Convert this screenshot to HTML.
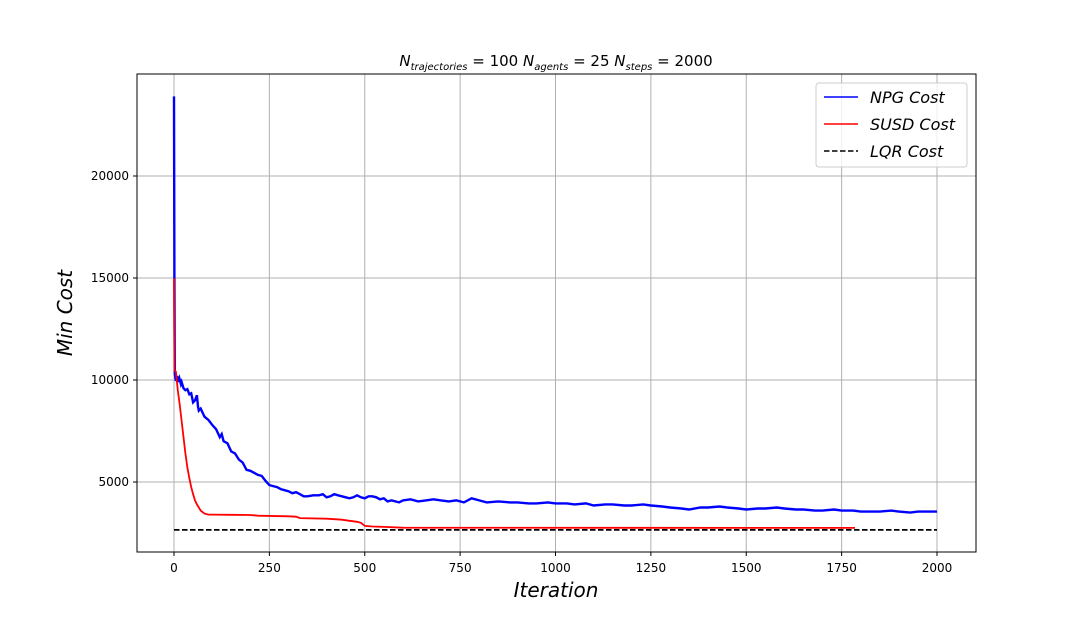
<!DOCTYPE html>
<html><head><meta charset="utf-8"><style>
body{margin:0;background:#fff;}
svg text{font-family:"DejaVu Sans","Liberation Sans",sans-serif;}
</style></head><body>
<svg id="chart" width="1084" height="620" xmlns="http://www.w3.org/2000/svg">
<rect width="1084" height="620" fill="#fff"/>
<g id="grid"></g>
<g id="series"></g>
<rect x="137" y="74" width="839" height="478" fill="none" stroke="#000" stroke-width="1"/>
<g id="ticks"></g>
<text x="556" y="66" text-anchor="middle" font-size="15"><tspan font-style="italic">N</tspan><tspan font-size="10" dy="4" font-style="italic">trajectories</tspan><tspan dy="-4"> = 100 </tspan><tspan font-style="italic">N</tspan><tspan font-size="10" dy="4" font-style="italic">agents</tspan><tspan dy="-4"> = 25 </tspan><tspan font-style="italic">N</tspan><tspan font-size="10" dy="4" font-style="italic">steps</tspan><tspan dy="-4"> = 2000</tspan></text>
<text x="556" y="597" text-anchor="middle" font-size="20" font-style="italic">Iteration</text>
<text transform="translate(72,313) rotate(-90)" text-anchor="middle" font-size="20" font-style="italic">Min Cost</text>
<g>
<rect x="816" y="83" width="151" height="84" rx="3" fill="#fff" fill-opacity="0.8" stroke="#ccc"/>
<line x1="824" y1="97" x2="858" y2="97" stroke="#0000ff" stroke-width="1.5"/>
<text x="870" y="103" font-size="16" font-style="italic">NPG Cost</text>
<line x1="824" y1="124" x2="858" y2="124" stroke="#ff0000" stroke-width="1.5"/>
<text x="870" y="130" font-size="16" font-style="italic">SUSD Cost</text>
<line x1="824" y1="151" x2="858" y2="151" stroke="#000" stroke-width="1.5" stroke-dasharray="5.5,2.5"/>
<text x="870" y="157" font-size="16" font-style="italic">LQR Cost</text>
</g>
</svg>
<script>
const npgIter=[0,1,2,5,8,10,14,18,20,25,30,35,40,45,50,55,60,63,65,70,80,90,100,110,120,125,130,140,150,160,170,180,190,200,210,220,230,240,250,260,270,280,290,300,310,320,330,340,350,365,380,390,400,410,420,430,440,450,460,470,480,490,500,510,520,530,540,550,560,570,580,590,600,620,640,660,680,700,720,740,760,780,800,820,850,880,900,930,950,980,1000,1030,1050,1080,1100,1130,1150,1180,1200,1230,1250,1280,1300,1330,1350,1380,1400,1430,1450,1480,1500,1530,1550,1580,1600,1630,1650,1680,1700,1730,1750,1780,1800,1830,1850,1880,1900,1930,1950,1980,2000];
const npgVal=[23900,15000,10300,9950,10200,9900,10100,9800,9900,9600,9500,9550,9300,9350,8900,9000,9250,8700,8500,8600,8200,8050,7800,7600,7200,7350,7000,6900,6500,6400,6100,5950,5600,5550,5450,5350,5300,5050,4850,4800,4750,4650,4600,4550,4450,4500,4400,4300,4300,4350,4350,4400,4250,4300,4400,4350,4300,4250,4200,4250,4350,4250,4200,4300,4300,4250,4150,4200,4050,4100,4050,4000,4100,4150,4050,4100,4150,4100,4050,4100,4000,4200,4100,4000,4050,4000,4000,3950,3950,4000,3950,3950,3900,3950,3850,3900,3900,3850,3850,3900,3850,3800,3750,3700,3650,3750,3750,3800,3750,3700,3650,3700,3700,3750,3700,3650,3650,3600,3600,3650,3600,3600,3550,3550,3550,3600,3550,3500,3550,3550,3550];
const susdIter=[0,1,5,10,15,20,25,30,35,40,45,50,55,60,70,80,90,100,150,200,220,300,320,330,400,440,460,480,490,500,520,550,600,1785];
const susdVal=[15000,10500,10400,9500,8800,8000,7200,6400,5700,5200,4750,4400,4100,3900,3600,3450,3400,3400,3390,3380,3350,3320,3300,3230,3200,3150,3100,3050,3000,2850,2820,2800,2760,2750];
const lqrIter=[0,2000];
const lqrVal=[2650,2650];
const xTicks=[0,250,500,750,1000,1250,1500,1750,2000];
const yTicks=[5000,10000,15000,20000];

const X=v=>174+v*(937-174)/2000;
const Y=v=>584-v*102/5000;
const NS="http://www.w3.org/2000/svg";
function mk(tag,parent){const e=document.createElementNS(NS,tag);document.getElementById(parent).appendChild(e);return e;}
xTicks.forEach(t=>{
 const g=mk('line','grid');g.setAttribute('x1',X(t));g.setAttribute('x2',X(t));g.setAttribute('y1',74);g.setAttribute('y2',552);g.setAttribute('stroke','#b0b0b0');g.setAttribute('stroke-width','1');
 
 
 const k=mk('line','ticks');k.setAttribute('x1',X(t));k.setAttribute('x2',X(t));k.setAttribute('y1',552);k.setAttribute('y2',556);k.setAttribute('stroke','#000');
 
 
 const l=mk('text','ticks');l.setAttribute('x',X(t));l.setAttribute('y',572);l.setAttribute('text-anchor','middle');l.setAttribute('font-size','12');l.textContent=t;
 
 
});
yTicks.forEach(t=>{
 const g=mk('line','grid');g.setAttribute('x1',137);g.setAttribute('x2',976);g.setAttribute('y1',Y(t));g.setAttribute('y2',Y(t));g.setAttribute('stroke','#b0b0b0');g.setAttribute('stroke-width','1');
 
 
 const k=mk('line','ticks');k.setAttribute('x1',133);k.setAttribute('x2',137);k.setAttribute('y1',Y(t));k.setAttribute('y2',Y(t));k.setAttribute('stroke','#000');
 
 
 const l=mk('text','ticks');l.setAttribute('x',129);l.setAttribute('y',Y(t)+4);l.setAttribute('text-anchor','end');l.setAttribute('font-size','12');l.textContent=t;
 
 
});
function line(xs,vs,color,dash,w){
 const p=mk('path','series');
 p.setAttribute('d',xs.map((x,i)=>(i?'L':'M')+X(x).toFixed(1)+','+Y(vs[i]).toFixed(1)).join(''));
 p.setAttribute('fill','none');p.setAttribute('stroke',color);p.setAttribute('stroke-width',w);
 if(dash)p.setAttribute('stroke-dasharray',dash);
 return p;
}
const a=line(npgIter,npgVal,'#0000ff',null,'2.4');


const b=line(susdIter,susdVal,'#ff0000',null,'1.8');


const c=line(lqrIter,lqrVal,'#000','5.5,2.5','1.8');


</script>
</body></html>
